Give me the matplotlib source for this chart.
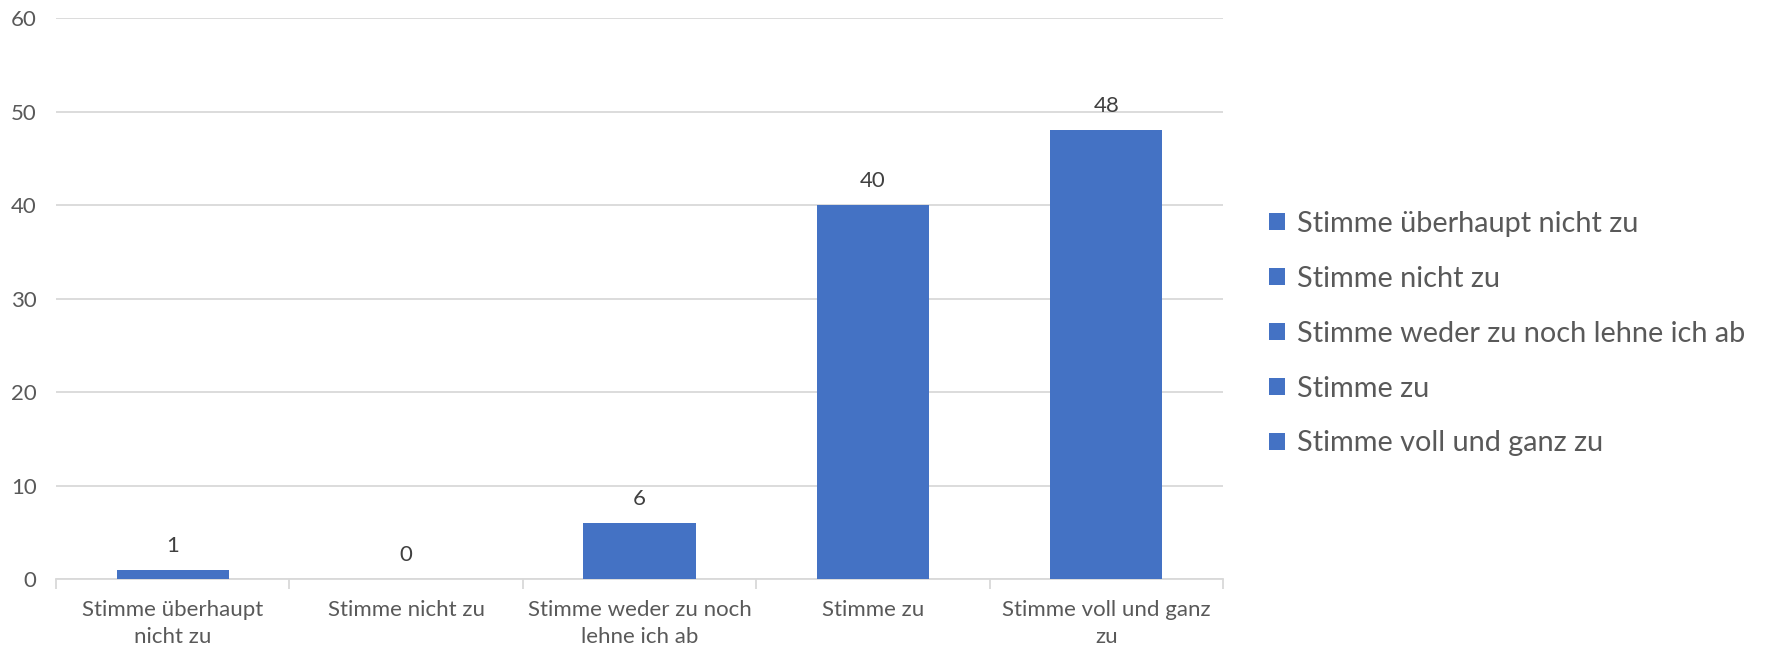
import matplotlib
matplotlib.use("Agg")
import matplotlib.pyplot as plt
from matplotlib.ticker import FixedLocator

plt.rcParams['font.family'] = ['Lato', 'DejaVu Sans']

categories = ["Stimme überhaupt nicht zu", "Stimme nicht zu",
              "Stimme weder zu noch lehne ich ab", "Stimme zu",
              "Stimme voll und ganz zu"]
tick_labels = ["Stimme überhaupt\nnicht zu", "Stimme nicht zu",
               "Stimme weder zu noch\nlehne ich ab", "Stimme zu",
               "Stimme voll und ganz\nzu"]
values = [1, 0, 6, 40, 48]
labels = ["1", "0", "6", "40", "48"]

bar_color = "#4472C4"
text_color = "#595959"
grid_color = "#D9D9D9"

fig = plt.figure(figsize=(17.71, 6.48), dpi=100)
ax = fig.add_axes([0.0316, 0.1065, 0.659, 0.8655])

for i, (cat, v) in enumerate(zip(categories, values)):
    ax.bar(i, v, width=0.48, color=bar_color, label=cat, zorder=3)
    ax.annotate(labels[i], (i, v), xytext=(0, 10), textcoords="offset points",
                ha="center", va="bottom", fontsize=16, color="#404040")

ax.set_xlim(-0.5, len(values) - 0.5)
ax.set_ylim(0, 60)
ax.set_yticks(range(0, 61, 10))
ax.yaxis.grid(True, color=grid_color, linewidth=1.3, zorder=0)
ax.tick_params(axis="y", length=0, labelsize=16, labelcolor=text_color, pad=14)

ax.set_xticks(range(len(values)))
ax.set_xticklabels(tick_labels, fontsize=16, color=text_color, linespacing=1.45)
ax.tick_params(axis="x", which="major", length=0, pad=15)
ax.xaxis.set_minor_locator(FixedLocator([i - 0.5 for i in range(len(values) + 1)]))
ax.tick_params(axis="x", which="minor", length=7, color=grid_color, width=1.3)

for s in ["top", "right", "left"]:
    ax.spines[s].set_visible(False)
ax.spines["bottom"].set_color(grid_color)
ax.spines["bottom"].set_linewidth(1.3)

leg = fig.legend(loc="center left", bbox_to_anchor=(0.702, 0.485), frameon=False,
                 fontsize=20.8, handlelength=0.55, handleheight=0.55, handletextpad=0.4,
                 labelspacing=1.0, labelcolor=text_color)

fig.savefig("out.png", dpi=100)
